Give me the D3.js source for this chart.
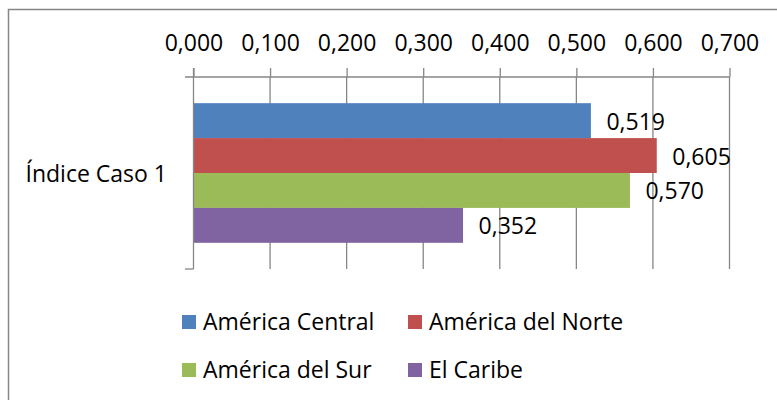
<!DOCTYPE html>
<html>
<head>
<meta charset="utf-8">
<script src="https://cdn.jsdelivr.net/npm/d3@7"></script>
<style>
  html, body { margin: 0; padding: 0; background: #fff; }
  svg { display: block; }
  text { font-family: "Open Sans", sans-serif; fill: #000; }
</style>
</head>
<body>
<svg id="chart" width="777" height="400"></svg>
<script>
// ---- data ----
const categories = ["Índice Caso 1"];
const seriesNames = ["América Central", "América del Norte", "América del Sur", "El Caribe"];
const seriesValues = [0.519, 0.605, 0.570, 0.352];
const seriesColors = ["#4F81BD", "#C0504D", "#9BBB59", "#8064A2"];
const tickValues = [0, 0.1, 0.2, 0.3, 0.4, 0.5, 0.6, 0.7];

// ---- layout ----
const svg = d3.select("#chart");
const plotLeft = 193.5, plotRight = 729.5, plotTop = 77, plotBottom = 269;
const fontSize = 23;
const gridColor = "#868686";

const locale = d3.formatLocale({ decimal: ",", thousands: ".", grouping: [3], currency: ["", ""] });
const fmt = locale.format(".3f");

// outer chart border (extends beyond window at right/bottom)
svg.append("rect")
  .attr("x", 8.5).attr("y", 9.5)
  .attr("width", 900).attr("height", 500)
  .attr("fill", "none").attr("stroke", gridColor).attr("stroke-width", 1.5);

const x = d3.scaleLinear().domain([0, 0.7]).range([plotLeft, plotRight]);
const yCat = d3.scaleBand().domain(categories).range([plotTop, plotBottom]).padding(0);

// gridlines
svg.append("g").selectAll("line")
  .data(tickValues.slice(1))
  .join("line")
  .attr("x1", d => x(d)).attr("x2", d => x(d))
  .attr("y1", plotTop).attr("y2", plotBottom)
  .attr("stroke", gridColor).attr("stroke-width", 1.3);

// bars
categories.forEach(cat => {
  const ySer = d3.scaleBand().domain(seriesNames)
    .range([yCat(cat), yCat(cat) + yCat.bandwidth()])
    .paddingInner(0).paddingOuter(0.75);
  const g = svg.append("g");
  g.selectAll("rect")
    .data(seriesNames)
    .join("rect")
    .attr("x", x(0))
    .attr("y", d => ySer(d))
    .attr("width", (d, i) => x(seriesValues[i]) - x(0))
    .attr("height", ySer.bandwidth())
    .attr("fill", (d, i) => seriesColors[i]);
  g.selectAll("text")
    .data(seriesNames)
    .join("text")
    .attr("x", (d, i) => x(seriesValues[i]) + 15.5)
    .attr("y", d => ySer(d) + ySer.bandwidth() / 2 + 9)
    .attr("font-size", fontSize)
    .text((d, i) => fmt(seriesValues[i]));
});

// value axis (top)
const xAxis = d3.axisTop(x).tickValues(tickValues).tickFormat(fmt).tickSize(9).tickPadding(17);
const ax = svg.append("g").attr("transform", `translate(0,${plotTop})`).call(xAxis);
ax.select(".domain").remove();
ax.selectAll(".tick line").attr("stroke", gridColor).attr("stroke-width", 1.3);
ax.selectAll(".tick text").attr("font-size", fontSize).attr("font-family", "Open Sans, sans-serif").attr("fill", "#000");
svg.append("line")
  .attr("x1", plotLeft - 8.5).attr("x2", plotRight)
  .attr("y1", plotTop).attr("y2", plotTop)
  .attr("stroke", gridColor).attr("stroke-width", 1.3);

// category axis (left)
svg.append("line")
  .attr("x1", plotLeft).attr("x2", plotLeft)
  .attr("y1", plotTop - 9).attr("y2", plotBottom)
  .attr("stroke", gridColor).attr("stroke-width", 1.3);
svg.append("line")
  .attr("x1", plotLeft - 8.5).attr("x2", plotLeft)
  .attr("y1", plotBottom).attr("y2", plotBottom)
  .attr("stroke", gridColor).attr("stroke-width", 1.3);
svg.append("g").selectAll("text")
  .data(categories)
  .join("text")
  .attr("x", 167)
  .attr("y", d => yCat(d) + yCat.bandwidth() / 2 + 9)
  .attr("text-anchor", "end")
  .attr("font-size", fontSize)
  .text(d => d);

// legend
const legendX = [182, 408];
const legendY = [322, 370];
const lg = svg.append("g");
seriesNames.forEach((name, i) => {
  const lx = legendX[i % 2], ly = legendY[Math.floor(i / 2)];
  lg.append("rect")
    .attr("x", lx).attr("y", ly - 7)
    .attr("width", 14).attr("height", 14)
    .attr("fill", seriesColors[i]);
  lg.append("text")
    .attr("x", lx + 21).attr("y", ly + 8)
    .attr("font-size", fontSize)
    .text(name);
});
</script>
</body>
</html>
